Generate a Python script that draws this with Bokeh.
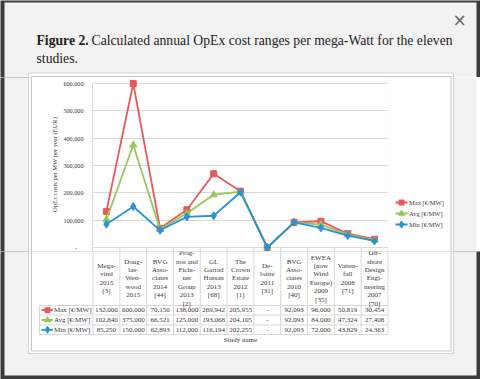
from bokeh.plotting import figure
from bokeh.layouts import column, row
from bokeh.models import (FixedTicker, NumeralTickFormatter, Range1d, FactorRange)
from bokeh.core.properties import value
from bokeh.embed import file_html
from bokeh.resources import INLINE

# ---------------- data ----------------
studies = ["Megavind 2015", "Douglas-Westwood 2015", "BVG Associates 2014",
           "Prognos and Fichtner Group 2013", "GL Garrad Hassan 2013",
           "The Crown Estate 2012", "Deloitte 2011", "BVG Associates 2010",
           "EWEA 2009", "Vattenfall 2008", "Offshore Design Engineering 2007"]
header_labels = ["Mega-\nvind\n2015\n[3]",
                 "Doug-\nlas-\nWest-\nwood\n2015",
                 "BVG\nAsso-\nciates\n2014\n[44]",
                 "Prog-\nnos and\nFicht-\nner\nGroup\n2013\n[2]",
                 "GL\nGarrad\nHassan\n2013\n[68]",
                 "The\nCrown\nEstate\n2012\n[1]",
                 "De-\nloitte\n2011\n[31]",
                 "BVG\nAsso-\nciates\n2010\n[40]",
                 "EWEA\n(now\nWind\nEurope)\n2009\n[35]",
                 "Vatten-\nfall\n2008\n[71]",
                 "Off-\nshore\nDesign\nEngi-\nneering\n2007\n[70]"]
max_vals = [132000, 600000, 70150, 138000, 269942, 205955, 0, 92093, 96000, 50819, 30454]
avg_vals = [102840, 375000, 66521, 125000, 193068, 204105, 0, 92093, 84000, 47324, 27408]
min_vals = [85250, 150000, 62893, 112000, 116194, 202255, 0, 92093, 72000, 43829, 24363]
series_names = ["Max [€/MW]", "Avg [€/MW]", "Min [€/MW]"]
y_ticks = [0, 100000, 200000, 300000, 400000, 500000, 600000]
title_bold = "Figure 2."
title_rest = "Calculated annual OpEx cost ranges per mega-Watt for the eleven"
title_line2 = "studies."
y_title = "OpEx costs per MW per year (EUR)"
x_title = "Study name"

# ---------------- style ----------------
RED = "#E9585B"
GREEN = "#97C65A"
BLUE = "#2A93D4"
COLORS = [RED, GREEN, BLUE]
MARKERS = ["square", "triangle", "diamond"]
MSIZE = [6, 7, 8]
GRID = "#d9d9d9"
TXT = "#3a3a3a"
DARK = "#3b3b3b"
MODAL = "#f2f2f2"
OUTER = "#d2d2d2"
INNER = "#c4c4c4"
SERIF = "Liberation Serif"
TITLE_SIZE = "13.7px"

PW, PH = 480, 379
Y_MID0, Y_MID1 = 77, 251          # middle band (chart) top / bottom
X_AXIS, X_CR = 92, 388            # plot frame left / right
C_LEFT = 32                       # chart figure left edge (axis border)
Y_ZERO, Y_TOP = 247, 83           # page y of 0 and 600,000
MOD_L, MOD_R, MOD_T, MOD_B = 4, 476, 2, 375
OUT_L, OUT_R, OUT_T, OUT_B = 28, 453, 72.5, 353
IN_L, IN_R, IN_T, IN_B = 31, 450.5, 76, 350.5
HEAD_Y = 278
HEAD_LH = 1.05
EXT = 3
ncol = len(studies)

PAD_C = 0.02                                       # factor padding per side (chart)
cw = (X_CR - X_AXIS) / (ncol + 2 * PAD_C)          # px per factor


def ident(v):
    return v


def to_syn(px):
    # page x -> synthetic categorical coordinate of the chart columns
    return (px - X_AXIS) / cw - PAD_C


def blank(w, h, xr, yr, bg, border):
    f = figure(width=w, height=h, x_range=xr, y_range=yr, output_backend="svg", title=None,
               toolbar_location=None, x_axis_location=None, y_axis_location=None,
               min_border=0, min_border_left=0, min_border_right=0,
               min_border_top=0, min_border_bottom=0,
               background_fill_color=bg, border_fill_color=border, outline_line_color=None)
    f.grid.visible = False
    return f


def clip_span(a, b, y0, y1):
    # clip [a, b] to the band [y0, y1]; extend past band edges to avoid seams
    t = a if a >= y0 else y0 - EXT
    bt = b if b <= y1 else y1 + EXT
    return t, bt


def frame_deco(f, y0, y1, cx=ident):
    def X(vals):
        return [cx(v) for v in vals]
    t, b = clip_span(MOD_T, MOD_B, y0, y1)
    f.quad(left=X([MOD_L]), right=X([MOD_R]), top=[t], bottom=[b],
           fill_color=MODAL, line_color=None)
    if OUT_B > y0 and OUT_T < y1:
        t, b = clip_span(OUT_T, OUT_B, y0, y1)
        f.quad(left=X([OUT_L]), right=X([OUT_R]), top=[t], bottom=[b], fill_color="white",
               line_color=None)
        f.segment(x0=X([OUT_L, OUT_R]), x1=X([OUT_L, OUT_R]), y0=[t, t], y1=[b, b],
                  line_color=OUTER, line_width=1)
    if IN_B > y0 and IN_T < y1:
        t2, b2 = clip_span(IN_T, IN_B, y0, y1)
        f.segment(x0=X([IN_L, IN_R]), x1=X([IN_L, IN_R]), y0=[t2, t2], y1=[b2, b2],
                  line_color=INNER, line_width=1)
    for yy, l, r, c in [(OUT_T, OUT_L, OUT_R, OUTER), (IN_T, IN_L, IN_R, INNER),
                        (OUT_B, OUT_L, OUT_R, OUTER), (IN_B, IN_L, IN_R, INNER)]:
        if y0 <= yy <= y1:
            f.segment(x0=X([l]), x1=X([r]), y0=[yy], y1=[yy], line_color=c, line_width=1)


# ---------------- top band ----------------
top = blank(PW, Y_MID0, Range1d(0, PW), Range1d(Y_MID0, 0), DARK, DARK)
frame_deco(top, 0, Y_MID0)
top.text(x=[36], y=[40], text=[title_bold], text_font=value(SERIF), text_font_size=value(TITLE_SIZE),
         text_font_style="bold", text_color="#222222", text_baseline="middle", text_align="left")
top.text(x=[91], y=[40], text=[title_rest], text_font=value(SERIF), text_font_size=value(TITLE_SIZE),
         text_color="#222222", text_baseline="middle", text_align="left")
top.text(x=[36], y=[58], text=[title_line2], text_font=value(SERIF), text_font_size=value(TITLE_SIZE),
         text_color="#222222", text_baseline="middle", text_align="left")
top.text(x=[459], y=[19], text=["×"], text_font=value("DejaVu Sans"), text_font_size=value("17px"),
         text_color="#666666", text_baseline="middle", text_align="center")

# ---------------- left strip ----------------
left = blank(C_LEFT, Y_MID1 - Y_MID0, Range1d(0, C_LEFT), Range1d(Y_MID1, Y_MID0), DARK, MODAL)
frame_deco(left, Y_MID0, Y_MID1)

# ---------------- chart ----------------
upx = 600000 / (Y_ZERO - Y_TOP)                          # value units per px
y_hi = 600000 + (Y_TOP - Y_MID0) * upx
y_lo = -(Y_MID1 - Y_ZERO) * upx

chart = figure(width=X_CR - C_LEFT, height=Y_MID1 - Y_MID0, title=None,
               x_range=FactorRange(*studies, range_padding=PAD_C, range_padding_units="absolute"),
               y_range=Range1d(y_lo, y_hi), output_backend="svg", toolbar_location=None,
               x_axis_location=None, min_border_left=X_AXIS - C_LEFT, min_border_right=0,
               min_border_top=0, min_border_bottom=0,
               background_fill_color="white", border_fill_color="white", outline_line_color=None)
chart.xgrid.visible = False
chart.ygrid.ticker = FixedTicker(ticks=y_ticks)
chart.ygrid.grid_line_color = GRID
ax = chart.yaxis[0]
ax.ticker = FixedTicker(ticks=y_ticks)
ax.bounds = (y_lo, 600000)
ax.formatter = NumeralTickFormatter(format="0,0")
ax.major_label_overrides = {0: "-    "}
ax.major_tick_line_color = None
ax.minor_tick_line_color = None
ax.major_tick_out = 0
ax.major_tick_in = 0
ax.minor_tick_out = 0
ax.minor_tick_in = 0
ax.axis_line_color = GRID
ax.major_label_standoff = 9
ax.major_label_text_font = SERIF
ax.major_label_text_font_size = "6.2px"
ax.major_label_text_color = TXT
ax.axis_label = y_title
ax.axis_label_text_font = SERIF
ax.axis_label_text_font_size = "6.5px"
ax.axis_label_text_font_style = "normal"
ax.axis_label_text_color = TXT
ax.axis_label_standoff = 2
# table column separators reaching into the chart band
chart.segment(x0=list(range(1, ncol + 1)), x1=list(range(1, ncol + 1)),
              y0=[0] * ncol, y1=[y_lo * 1.5] * ncol, line_color=GRID, line_width=1)

for vals, col, mk, sz in zip([max_vals, avg_vals, min_vals], COLORS, MARKERS, MSIZE):
    chart.line(studies, vals, line_color=col, line_width=1.8)
    chart.scatter(studies, vals, marker=mk, size=sz, fill_color=col, line_color=col)

# ---------------- right strip (legend) ----------------
right = blank(PW - X_CR, Y_MID1 - Y_MID0, Range1d(X_CR, PW), Range1d(Y_MID1, Y_MID0), "white", "white")
frame_deco(right, Y_MID0, Y_MID1)
leg_y = [202, 213, 224]
for yy, col, mk, sz in zip(leg_y, COLORS, MARKERS, MSIZE):
    right.segment(x0=[395], x1=[407], y0=[yy], y1=[yy], line_color=col, line_width=1.8)
    right.scatter(x=[401], y=[yy], marker=mk, size=sz - 1, fill_color=col, line_color=col)
right.text(x=[408.5] * 3, y=leg_y, text=series_names, text_font=value(SERIF),
           text_font_size=value("6.5px"), text_color=TXT, text_baseline="middle", text_align="left")

# ---------------- bottom band (data table) ----------------
pad_b = (PW / cw - ncol) / 2
bottom = figure(width=PW, height=PH - Y_MID1, title=None,
                x_range=FactorRange(*studies, range_padding=pad_b, range_padding_units="absolute"),
                y_range=Range1d(PH, Y_MID1),
                output_backend="svg", toolbar_location=None,
                x_axis_location=None, y_axis_location=None, min_border=0,
                min_border_left=0, min_border_right=0, min_border_top=0, min_border_bottom=0,
                background_fill_color=DARK, border_fill_color="white", outline_line_color=None)
bottom.grid.visible = False
frame_deco(bottom, Y_MID1, PH, cx=to_syn)

TAB_L = 39
ROW_LINES = [305, 314.5, 324.5, 334]
ROW_Y = [309.7, 319.5, 329.3]
bottom.segment(x0=list(range(ncol + 1)), x1=list(range(ncol + 1)),
               y0=[Y_MID1 - EXT] * (ncol + 1), y1=[ROW_LINES[-1]] * (ncol + 1),
               line_color=GRID, line_width=1)
bottom.segment(x0=[to_syn(TAB_L)] * 4, x1=[ncol] * 4, y0=ROW_LINES, y1=ROW_LINES,
               line_color=GRID, line_width=1)
bottom.segment(x0=[to_syn(TAB_L)], x1=[to_syn(TAB_L)], y0=[ROW_LINES[0]], y1=[ROW_LINES[-1]],
               line_color=GRID, line_width=1)

bottom.text(x=studies, y=[HEAD_Y] * ncol, text=header_labels, text_font=value(SERIF),
            text_font_size=value("7px"), text_line_height=HEAD_LH, text_color=TXT,
            text_align="center", text_baseline="middle")


def fmt(v):
    return "-" if v == 0 else f"{v:,}"


for yy, vals in zip(ROW_Y, [max_vals, avg_vals, min_vals]):
    bottom.text(x=studies, y=[yy] * ncol, text=[fmt(v) for v in vals],
                text_font=value(SERIF), text_font_size=value("7px"), text_color=TXT,
                text_align="center", text_baseline="middle")

for yy, col, mk, sz in zip(ROW_Y, COLORS, MARKERS, MSIZE):
    bottom.segment(x0=[to_syn(41)], x1=[to_syn(52.5)], y0=[yy], y1=[yy], line_color=col,
                   line_width=1.8)
    bottom.scatter(x=[to_syn(47)], y=[yy], marker=mk, size=sz - 1, fill_color=col,
                   line_color=col)
bottom.text(x=[to_syn(53.5)] * 3, y=ROW_Y, text=series_names, text_font=value(SERIF),
            text_font_size=value("7px"), text_color=TXT, text_baseline="middle",
            text_align="left")
bottom.text(x=[to_syn(240)], y=[339.5], text=[x_title], text_font=value(SERIF),
            text_font_size=value("7px"), text_color=TXT, text_baseline="middle",
            text_align="center")

layout = column(top, row(left, chart, right, spacing=0), bottom, spacing=0)
open("out.html", "w").write(file_html(layout, INLINE))
